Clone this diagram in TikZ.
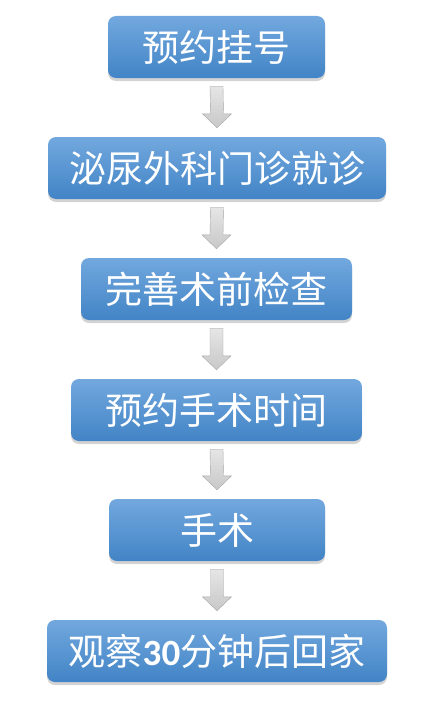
\documentclass[tikz,border=0pt]{standalone}
\usepackage{fontspec}
\newfontfamily\cjk{Noto Sans CJK SC}
\newfontfamily\digits{Carlito}
\usetikzlibrary{shadows, calc}

\definecolor{boxtop}{RGB}{114,168,222}
\definecolor{boxmid}{RGB}{82,154,222}
\definecolor{boxbottom}{RGB}{66,132,198}
\definecolor{arrowfill}{RGB}{200,200,200}

\tikzset{
    stepbox/.style = {rectangle, rounded corners = 8pt, minimum height = 62pt, inner sep = 0pt,
        top color = boxtop, middle color = boxmid, bottom color = boxbottom,
        drop shadow = {opacity = .35, shadow xshift = 0pt, shadow yshift = -3pt},
        text = white, font = \cjk\fontsize{37}{42}\selectfont},
    flowarrow/.style = {draw = black!35, top color = black!10, bottom color = arrowfill, line join = miter}
}

\begin{document}
\begin{tikzpicture}[x = 1pt, y = -1pt]
    \useasboundingbox (0,0) rectangle (442,709);

    % Draw the steps:
    \node [stepbox, minimum width = 217pt] (Register) at (216.5, 47) {预约挂号};
    \node [stepbox, minimum width = 338pt] (Visit)    at (217, 168)  {泌尿外科门诊就诊};
    \node [stepbox, minimum width = 271pt] (Checks)   at (216.5, 289) {完善术前检查};
    \node [stepbox, minimum width = 291pt] (Book)     at (216.5, 410) {预约手术时间};
    \node [stepbox, minimum width = 216pt] (Surgery)  at (217, 530)  {手术};
    \node [stepbox, minimum width = 340pt] (Home)     at (217, 651)
        {观察{\digits\bfseries 30}分钟后回家};

    % Draw the arrows between them:
    \foreach \from/\to in {Register/Visit, Visit/Checks, Checks/Book, Book/Surgery, Surgery/Home}
        \draw [flowarrow] ($(\from.south)+(-6.5,8)$) -- ($(\from.south)+(6.5,8)$)
            -- ($(\to.north)+(6.5,-23)$) -- ($(\to.north)+(14.5,-23)$) -- ($(\to.north)+(0,-9)$)
            -- ($(\to.north)+(-14.5,-23)$) -- ($(\to.north)+(-6.5,-23)$) -- cycle;
\end{tikzpicture}
\end{document}
